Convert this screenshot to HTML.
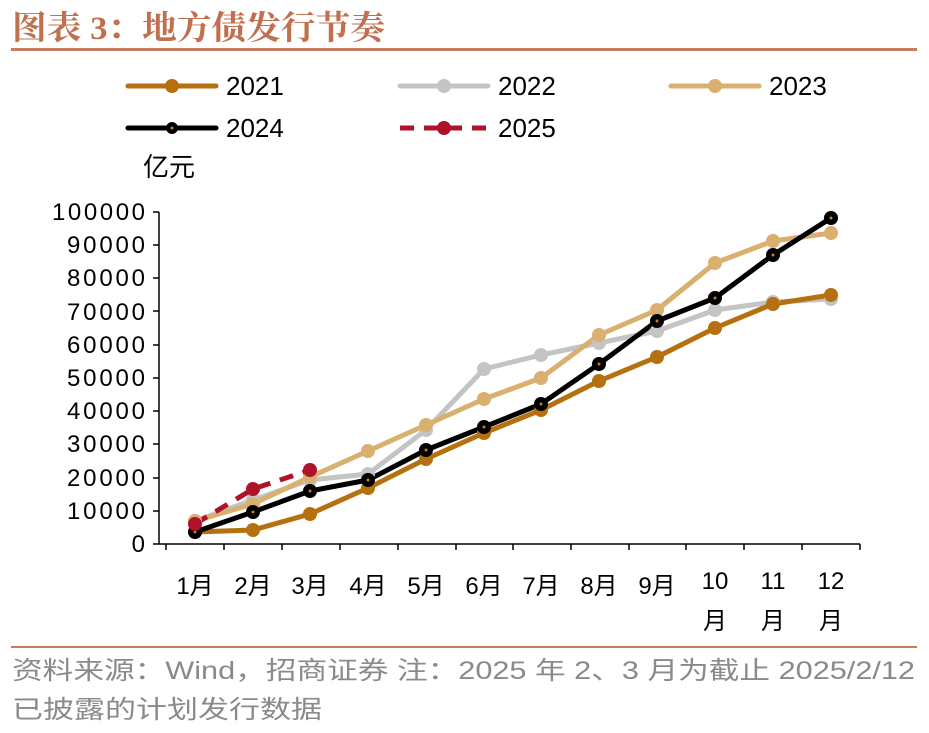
<!DOCTYPE html><html><head><meta charset="utf-8"><style>body{margin:0;background:#fff}svg{display:block}text{font-family:"Liberation Sans","Noto Sans CJK SC",sans-serif}</style></head><body>
<svg width="929" height="733" viewBox="0 0 929 733" xmlns="http://www.w3.org/2000/svg">
<text x="12" y="39" font-size="33" font-weight="bold" fill="#c0704f" textLength="373" lengthAdjust="spacingAndGlyphs" style="font-family:'Liberation Serif','Noto Serif CJK SC',serif">图表 3：地方债发行节奏</text>
<rect x="11" y="48" width="906" height="3" fill="#c87a5c"/>
<g font-size="26" fill="#000">
<line x1="128" y1="86" x2="216" y2="86" stroke="#b5700f" stroke-width="5" stroke-linecap="round"/><circle cx="172" cy="86" r="7" fill="#b5700f"/><text x="226" y="95">2021</text>
<line x1="400" y1="86" x2="488" y2="86" stroke="#c4c4c4" stroke-width="5" stroke-linecap="round"/><circle cx="444" cy="86" r="7" fill="#c4c4c4"/><text x="498" y="95">2022</text>
<line x1="671" y1="86" x2="759" y2="86" stroke="#d9b070" stroke-width="5" stroke-linecap="round"/><circle cx="715" cy="86" r="7" fill="#d9b070"/><text x="769" y="95">2023</text>
<line x1="128" y1="128" x2="216" y2="128" stroke="#000" stroke-width="5" stroke-linecap="round"/><circle cx="172" cy="128" r="6" fill="#000"/><circle cx="172" cy="128" r="1.5" fill="#c08020"/><text x="226" y="137">2024</text>
<line x1="400" y1="128" x2="488" y2="128" stroke="#b0122a" stroke-width="5" stroke-dasharray="14,10"/><circle cx="444" cy="128" r="7" fill="#b0122a"/><text x="498" y="137">2025</text>
<text x="143" y="176">亿元</text>
</g>
<g font-size="24" text-anchor="end">
<text x="145" y="552">0</text><text x="145" y="519" textLength="78">10000</text><text x="145" y="486" textLength="78">20000</text><text x="145" y="452" textLength="78">30000</text><text x="145" y="419" textLength="78">40000</text><text x="145" y="386" textLength="78">50000</text><text x="145" y="353" textLength="78">60000</text><text x="145" y="320" textLength="78">70000</text><text x="145" y="286" textLength="78">80000</text><text x="145" y="253" textLength="78">90000</text><text x="145" y="220" textLength="93">100000</text>
</g>
<g stroke="#000" stroke-width="1.5">
<line x1="159" y1="212" x2="159" y2="544"/>
<line x1="153" y1="212" x2="159" y2="212"/><line x1="153" y1="245" x2="159" y2="245"/><line x1="153" y1="278" x2="159" y2="278"/><line x1="153" y1="311" x2="159" y2="311"/><line x1="153" y1="345" x2="159" y2="345"/><line x1="153" y1="378" x2="159" y2="378"/><line x1="153" y1="411" x2="159" y2="411"/><line x1="153" y1="444" x2="159" y2="444"/><line x1="153" y1="478" x2="159" y2="478"/><line x1="153" y1="511" x2="159" y2="511"/><line x1="153" y1="544" x2="159" y2="544"/>
<line x1="159" y1="544" x2="860" y2="544"/>
<line x1="166" y1="544" x2="166" y2="550"/><line x1="224" y1="544" x2="224" y2="550"/><line x1="282" y1="544" x2="282" y2="550"/><line x1="340" y1="544" x2="340" y2="550"/><line x1="398" y1="544" x2="398" y2="550"/><line x1="456" y1="544" x2="456" y2="550"/><line x1="513" y1="544" x2="513" y2="550"/><line x1="571" y1="544" x2="571" y2="550"/><line x1="629" y1="544" x2="629" y2="550"/><line x1="686" y1="544" x2="686" y2="550"/><line x1="744" y1="544" x2="744" y2="550"/><line x1="802" y1="544" x2="802" y2="550"/><line x1="860" y1="544" x2="860" y2="550"/>
</g>
<g font-size="24" text-anchor="middle">
<text x="195" y="594">1月</text><text x="253" y="594">2月</text><text x="310" y="594">3月</text><text x="368" y="594">4月</text><text x="426" y="594">5月</text><text x="484" y="594">6月</text><text x="541" y="594">7月</text><text x="599" y="594">8月</text><text x="657" y="594">9月</text>
<text x="715" y="589">10</text><text x="715" y="629">月</text><text x="773" y="589">11</text><text x="773" y="629">月</text><text x="831" y="589">12</text><text x="831" y="629">月</text>
</g>
<g stroke-width="5" fill="none" stroke-linejoin="round">
<polyline stroke="#c4c4c4" points="195,521 253,500 310,480 368,474 426,430 484,369 541,355 599,343 657,331 715,310 773,302 831,299"/>
<polyline stroke="#b5700f" points="195,532 253,530 310,514 368,488 426,459 484,433 541,410 599,381 657,357 715,328 773,304 831,295"/>
<polyline stroke="#d9b070" points="195,521 253,504 310,477 368,451 426,425 484,399 541,378 599,335 657,310 715,263 773,241 831,233"/>
<polyline stroke="#000" points="195,532 253,512 310,491 368,480 426,450 484,427 541,404 599,364 657,321 715,298 773,255 831,218"/>
<polyline stroke="#b0122a" stroke-dasharray="14,10" points="195,524 253,489 310,470"/>
</g>
<g fill="#c4c4c4"><circle cx="195" cy="521" r="7"/><circle cx="253" cy="500" r="7"/><circle cx="310" cy="480" r="7"/><circle cx="368" cy="474" r="7"/><circle cx="426" cy="430" r="7"/><circle cx="484" cy="369" r="7"/><circle cx="541" cy="355" r="7"/><circle cx="599" cy="343" r="7"/><circle cx="657" cy="331" r="7"/><circle cx="715" cy="310" r="7"/><circle cx="773" cy="302" r="7"/><circle cx="831" cy="299" r="7"/></g>
<g fill="#b5700f"><circle cx="195" cy="532" r="7"/><circle cx="253" cy="530" r="7"/><circle cx="310" cy="514" r="7"/><circle cx="368" cy="488" r="7"/><circle cx="426" cy="459" r="7"/><circle cx="484" cy="433" r="7"/><circle cx="541" cy="410" r="7"/><circle cx="599" cy="381" r="7"/><circle cx="657" cy="357" r="7"/><circle cx="715" cy="328" r="7"/><circle cx="773" cy="304" r="7"/><circle cx="831" cy="295" r="7"/></g>
<g fill="#d9b070"><circle cx="195" cy="521" r="7"/><circle cx="253" cy="504" r="7"/><circle cx="310" cy="477" r="7"/><circle cx="368" cy="451" r="7"/><circle cx="426" cy="425" r="7"/><circle cx="484" cy="399" r="7"/><circle cx="541" cy="378" r="7"/><circle cx="599" cy="335" r="7"/><circle cx="657" cy="310" r="7"/><circle cx="715" cy="263" r="7"/><circle cx="773" cy="241" r="7"/><circle cx="831" cy="233" r="7"/></g>
<g fill="#000"><circle cx="195" cy="532" r="7"/><circle cx="253" cy="512" r="7"/><circle cx="310" cy="491" r="7"/><circle cx="368" cy="480" r="7"/><circle cx="426" cy="450" r="7"/><circle cx="484" cy="427" r="7"/><circle cx="541" cy="404" r="7"/><circle cx="599" cy="364" r="7"/><circle cx="657" cy="321" r="7"/><circle cx="715" cy="298" r="7"/><circle cx="773" cy="255" r="7"/><circle cx="831" cy="218" r="7"/></g>
<g fill="#c08020"><circle cx="195" cy="532" r="1.5"/><circle cx="253" cy="512" r="1.5"/><circle cx="310" cy="491" r="1.5"/><circle cx="368" cy="480" r="1.5"/><circle cx="426" cy="450" r="1.5"/><circle cx="484" cy="427" r="1.5"/><circle cx="541" cy="404" r="1.5"/><circle cx="599" cy="364" r="1.5"/><circle cx="657" cy="321" r="1.5"/><circle cx="715" cy="298" r="1.5"/><circle cx="773" cy="255" r="1.5"/><circle cx="831" cy="218" r="1.5"/></g>
<g fill="#b0122a"><circle cx="195" cy="524" r="7"/><circle cx="253" cy="489" r="7"/><circle cx="310" cy="470" r="7"/></g>
<rect x="11" y="646" width="906" height="2" fill="#c87a5c"/>
<g font-size="25" fill="#8a8a8a"><text x="12" y="679" textLength="903" lengthAdjust="spacingAndGlyphs">资料来源：Wind，招商证券  注：2025 年 2、3 月为截止 2025/2/12</text><text x="12" y="718" textLength="310" lengthAdjust="spacingAndGlyphs">已披露的计划发行数据</text></g>
</svg></body></html>
